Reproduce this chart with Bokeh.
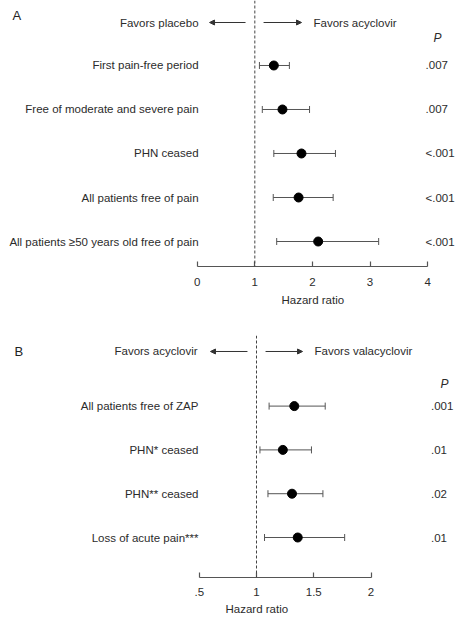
from bokeh.plotting import figure
from bokeh.models import (Range1d, ColumnDataSource, Whisker, TeeHead, Arrow, NormalHead,
                          Span, FixedTicker, Title)
from bokeh.layouts import column
from bokeh.core.properties import value
from bokeh.embed import file_html
from bokeh.resources import INLINE

# ---------------- data ----------------
a_labels = ["First pain-free period", "Free of moderate and severe pain", "PHN ceased",
            "All patients free of pain", "All patients \u226550 years old free of pain"]
a_hr = [1.33, 1.48, 1.81, 1.76, 2.10]
a_lo = [1.08, 1.13, 1.33, 1.32, 1.38]
a_hi = [1.60, 1.95, 2.40, 2.36, 3.15]
a_p = [".007", ".007", "<.001", "<.001", "<.001"]
a_ticks = [0, 1, 2, 3, 4]

b_labels = ["All patients free of ZAP", "PHN* ceased", "PHN** ceased", "Loss of acute pain***"]
b_hr = [1.33, 1.23, 1.31, 1.36]
b_lo = [1.11, 1.03, 1.10, 1.07]
b_hi = [1.60, 1.48, 1.58, 1.77]
b_p = [".001", ".01", ".02", ".01"]
b_ticks = [0.5, 1, 1.5, 2]
b_tick_labels = [".5", "1", "1.5", "2"]

FONT = value("Liberation Sans")
FS = "11.5px"
TXT = "#2b2b2b"
LINE = "#555555"


def base_fig(height, xr, yr, top, bottom, title_offset, title_standoff):
    p = figure(width=455, height=height, x_range=Range1d(*xr), y_range=Range1d(*yr),
               output_backend="svg", toolbar_location=None, y_axis_location=None,
               min_border_left=0, min_border_right=0, min_border_top=top,
               min_border_bottom=bottom, outline_line_color=None)
    p.xgrid.visible = False
    p.ygrid.visible = False
    ax = p.xaxis[0]
    ax.major_label_text_font = "Liberation Sans"
    ax.major_label_text_font_size = FS
    ax.major_label_text_color = TXT
    ax.axis_line_color = LINE
    ax.axis_line_width = 1.2
    ax.major_tick_line_color = LINE
    ax.major_tick_line_width = 1.2
    ax.major_tick_in = 5
    ax.major_tick_out = 0
    ax.minor_tick_in = 0
    ax.minor_tick_out = 0
    p.add_layout(Title(text="Hazard ratio", align="left", offset=title_offset,
                       standoff=title_standoff, text_font="Liberation Sans",
                       text_font_size=FS, text_font_style="normal",
                       text_color=TXT), "below")
    return p


def add_panel(p, labels, hr, lo, hi, pvals, ys, lab_x, p_x, ph_x, ph_y):
    src = ColumnDataSource(dict(y=ys, hr=hr, lo=lo, hi=hi, lab=labels, pv=pvals))
    p.add_layout(Span(location=1, dimension="height", line_color="#444444",
                      line_dash="3 2", line_width=1))
    w = Whisker(base="y", lower="lo", upper="hi", dimension="width", source=src,
                line_color=LINE, line_width=1,
                upper_head=TeeHead(size=7, line_color=LINE, line_width=1),
                lower_head=TeeHead(size=7, line_color=LINE, line_width=1))
    p.add_layout(w)
    p.scatter("hr", "y", source=src, size=9, color="black")
    p.text(x=lab_x, y="y", text="lab", source=src, text_align="right",
           text_baseline="middle", text_font=FONT, text_font_size=FS, text_color=TXT)
    p.text(x=p_x, y="y", text="pv", source=src, text_align="left",
           text_baseline="middle", text_font=FONT, text_font_size=FS, text_color=TXT)
    p.text(x=[ph_x], y=[ph_y], text=["P"], text_align="left", text_baseline="middle",
           text_font=FONT, text_font_size="12px", text_font_style="italic", text_color=TXT)


def add_header(p, y, left_txt, left_x, la, right_txt, right_x, ra, panel, px, py):
    p.text(x=[left_x], y=[y], text=[left_txt], text_align="right", text_baseline="middle",
           text_font=FONT, text_font_size=FS, text_color=TXT)
    p.text(x=[right_x], y=[y], text=[right_txt], text_align="left", text_baseline="middle",
           text_font=FONT, text_font_size=FS, text_color=TXT)
    for (xs, xe) in (la, ra):
        p.add_layout(Arrow(end=NormalHead(size=5, fill_color="#333333", line_color="#333333",
                                          line_width=1),
                           x_start=xs, y_start=y, x_end=xe, y_end=y,
                           line_color="#333333", line_width=1))
    p.text(x=[px], y=[py], text=[panel], text_align="left", text_baseline="middle",
           text_font=FONT, text_font_size="13px", text_color="#222222")


# ---------------- panel A ----------------
pa = base_fig(320, (-3.415, 4.484), (0.432, 6.477), 0, 54, 281, 6)
pa.xaxis[0].bounds = (a_ticks[0], a_ticks[-1])
pa.xaxis[0].ticker = FixedTicker(ticks=a_ticks)
pa.xaxis[0].major_label_standoff = 11
ya = [len(a_labels) - i for i in range(len(a_labels))]
add_panel(pa, a_labels, a_hr, a_lo, a_hi, a_p, ya, 0.023, 3.964, 4.102, 5.614)
add_header(pa, 5.977, "Favors placebo", 0.023, (0.839, 0.214),
           "Favors acyclovir", 2.019, (1.152, 1.811), "A", -3.207, 6.136)

# ---------------- panel B ----------------
pb = base_fig(299, (-1.236, 2.738), (0.0868, 5.612), 15, 42, 225, 4)
pb.xaxis[0].bounds = (b_ticks[0], b_ticks[-1])
pb.xaxis[0].ticker = FixedTicker(ticks=b_ticks)
pb.xaxis[0].major_label_overrides = {t: l for t, l in zip(b_ticks, b_tick_labels)}
pb.xaxis[0].major_label_standoff = 10
yb = [len(b_labels) - i for i in range(len(b_labels))]
add_panel(pb, b_labels, b_hr, b_lo, b_hi, b_p, yb, 0.493, 2.524, 2.607, 4.516)
add_header(pb, 5.247, "Favors acyclovir", 0.485, (0.921, 0.598),
           "Favors valacyclovir", 1.507, (1.079, 1.402), "B", -1.113, 5.247)

layout = column(pa, pb, spacing=0)
open("out.html", "w").write(file_html(layout, INLINE))
